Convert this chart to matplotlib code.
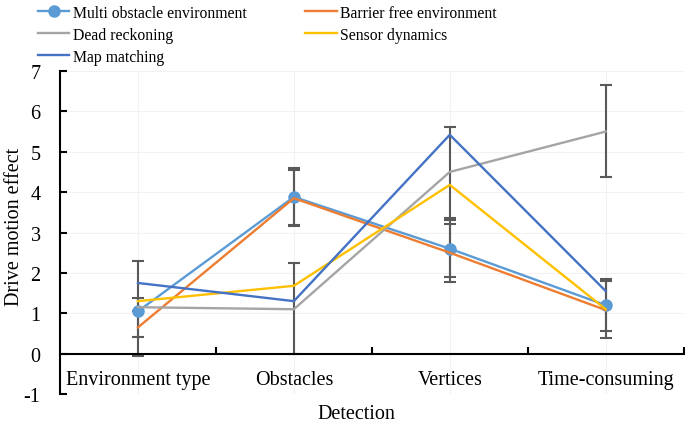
import matplotlib.pyplot as plt
import numpy as np

plt.rcParams['font.family'] = ['Liberation Serif', 'DejaVu Serif']
plt.rcParams['axes.unicode_minus'] = False

categories = ['Environment type', 'Obstacles', 'Vertices', 'Time-consuming']

multi_obstacle = [1.05, 3.88, 2.60, 1.20]
barrier_free = [0.65, 3.85, 2.50, 1.08]
dead_reckoning = [1.15, 1.10, 4.50, 5.50]
sensor_dynamics = [1.30, 1.68, 4.18, 1.10]
map_matching = [1.75, 1.30, 5.42, 1.55]

# error bars (lower, upper)
multi_err_lo = [0.0, 0.70, 0.70, 0.65]
multi_err_hi = [0.0, 0.72, 0.70, 0.65]
barrier_err_lo = [0.25, 0.70, 0.72, 0.70]
barrier_err_hi = [0.74, 0.70, 0.72, 0.72]
dead_err_lo = [1.20, 1.10, 1.13, 1.12]
dead_err_hi = [1.15, 1.15, 1.12, 1.16]

x = np.arange(len(categories))

fig = plt.figure(figsize=(6.85, 4.27), dpi=100)
ax = fig.add_axes([0.0876, 0.0749, 0.9104, 0.7565])

errkw = dict(fmt='none', ecolor='#595959', elinewidth=1.5, capsize=4, capthick=1.5)
ax.errorbar(x, multi_obstacle, yerr=[multi_err_lo, multi_err_hi], **errkw)
ax.errorbar(x, barrier_free, yerr=[barrier_err_lo, barrier_err_hi], **errkw)
ax.errorbar(x, dead_reckoning, yerr=[dead_err_lo, dead_err_hi], **errkw)

h_multi, = ax.plot(x, multi_obstacle, color='#5B9BD5', lw=1.7, marker='o', ms=8,
                   label='Multi obstacle environment')
h_barrier, = ax.plot(x, barrier_free, color='#ED7D31', lw=1.7, label='Barrier free environment')
h_dead, = ax.plot(x, dead_reckoning, color='#A5A5A5', lw=1.7, label='Dead reckoning')
h_sensor, = ax.plot(x, sensor_dynamics, color='#FFC000', lw=1.7, label='Sensor dynamics')
h_map, = ax.plot(x, map_matching, color='#4472C4', lw=1.7, label='Map matching')

ax.set_xlim(-0.5, 3.5)
ax.set_ylim(-1, 7)

ax.spines['top'].set_visible(False)
ax.spines['right'].set_visible(False)
ax.spines['bottom'].set_position(('data', 0))
ax.spines['left'].set_linewidth(1.5)
ax.spines['bottom'].set_linewidth(1.5)

ax.set_yticks(range(-1, 8))
ax.tick_params(axis='y', direction='in', length=5, width=1.5, labelsize=14.5, pad=14)
ax.set_xticks([0.5, 1.5, 2.5, 3.5])
ax.set_xticklabels([])
ax.tick_params(axis='x', which='major', direction='in', length=5, width=1.5)
ax.set_xticks(x, minor=True)
ax.set_xticklabels(categories, minor=True)
ax.tick_params(axis='x', which='minor', length=0, labelsize=14.5, pad=12)

ax.grid(True, which='minor', axis='x', color='#f2f2f2', lw=0.8)
ax.grid(True, which='major', axis='y', color='#f2f2f2', lw=0.8)
ax.set_axisbelow(True)

ax.set_ylabel('Drive motion effect', fontsize=14.5)
ax.yaxis.set_label_coords(-0.058, 0.52)
ax.set_xlabel('Detection', fontsize=14.5)
ax.xaxis.set_label_coords(0.475, -0.03)

handles = [h_multi, h_dead, h_map, h_barrier, h_sensor]
labels = [h.get_label() for h in handles]
fig.legend(handles, labels, ncol=2, loc='upper left', bbox_to_anchor=(0.035, 1.02),
           frameon=False, fontsize=11.3, handlelength=2.0, handletextpad=0.2,
           columnspacing=3.75, labelspacing=0.38)

fig.savefig('out.png', dpi=100)
